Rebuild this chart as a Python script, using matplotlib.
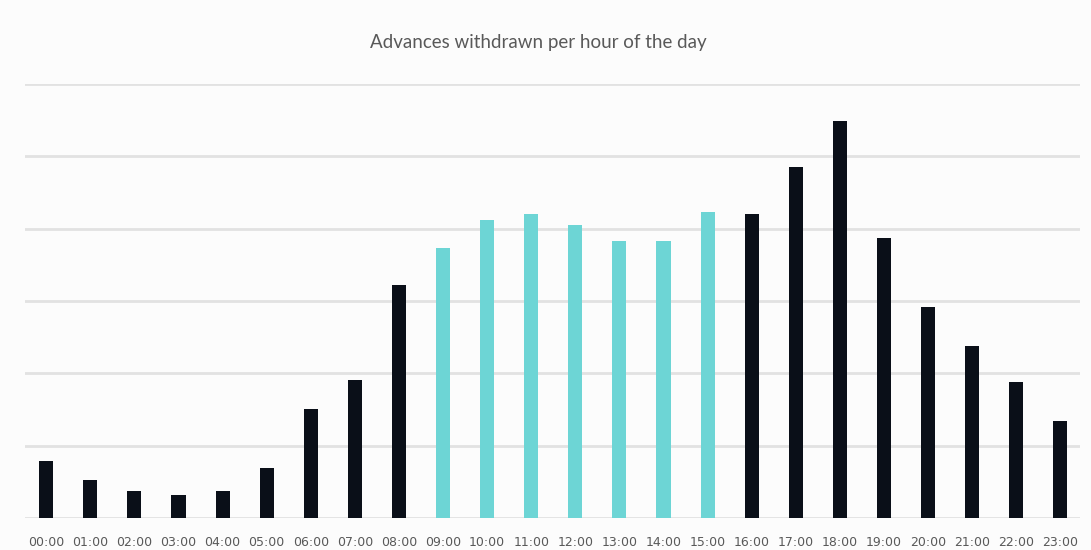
import matplotlib.pyplot as plt
import numpy as np

hours = ['%02d:00' % h for h in range(24)]
values = [0.79, 0.53, 0.37, 0.32, 0.37, 0.69, 1.51, 1.91, 3.22, 3.73, 4.12, 4.20,
          4.05, 3.83, 3.83, 4.23, 4.20, 4.85, 5.49, 3.87, 2.92, 2.38, 1.88, 1.34]
highlight = ['09:00', '10:00', '11:00', '12:00', '13:00', '14:00', '15:00']

dark = '#0a0f18'
cyan = '#6dd5d5'
colors = [cyan if h in highlight else dark for h in hours]

fig = plt.figure(figsize=(10.91, 5.5), dpi=100, facecolor='#fcfcfc')
ax = fig.add_axes([0.023, 0.058, 0.967, 0.789])
ax.set_facecolor('#fcfcfc')

x = np.arange(len(hours))
ax.bar(x, values, width=0.32, color=colors, zorder=3)

ax.set_ylim(0, 6)
ax.set_xlim(-0.48, 23.45)
ax.set_yticks(np.arange(0, 7, 1))
ax.yaxis.grid(True, color='#e2e2e2', linewidth=2, zorder=0)
ax.tick_params(axis='y', left=False, labelleft=False)
ax.tick_params(axis='x', length=0, pad=13)
ax.set_xticks(x)
ax.set_xticklabels(hours, fontsize=9, color='#595959',
                   family=['DejaVu Sans Condensed', 'DejaVu Sans'])
for s in ax.spines.values():
    s.set_visible(False)

fig.text(0.493, 0.922, 'Advances withdrawn per hour of the day', ha='center', va='center',
         fontsize=13.5, color='#595959', family=['Lato', 'DejaVu Sans'])

fig.savefig('out.png', dpi=100, facecolor=fig.get_facecolor())
